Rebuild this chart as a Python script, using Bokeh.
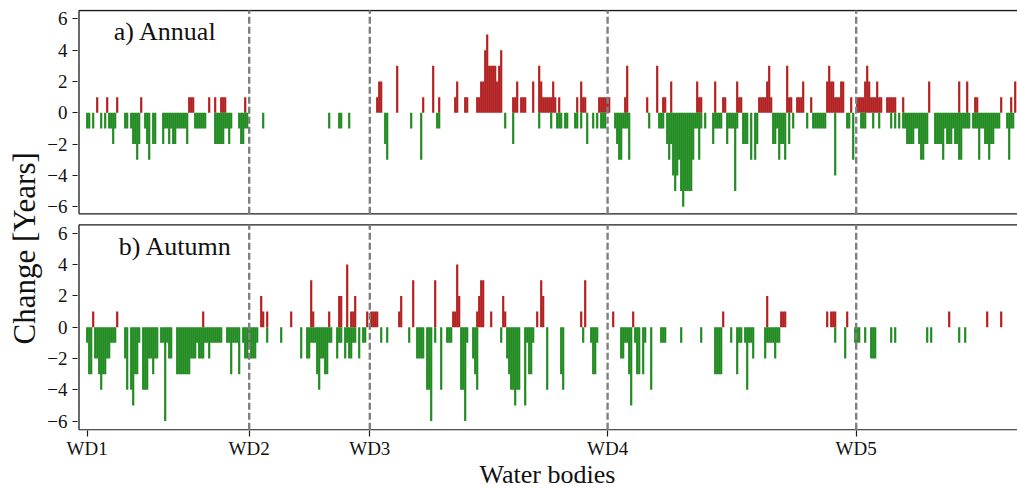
from bokeh.plotting import figure
from bokeh.models import Range1d, FixedTicker, Label, ColumnDataSource, Title
from bokeh.transform import dodge
from bokeh.embed import file_html
from bokeh.resources import INLINE

# ---------------- data (index of water body, change in years) ----------------
annual_up = [(5,1),(10,1),(15,1),(27,1),(51,1),(52,1),(53,1),(61,1),(64,1),(67,1),(68,1),(69,1),(79,1),
    (145,1),(146,2),(147,2),(155,3),(168,1),(173,3),(176,1),(184,1),(185,2),(189,1),(190,1),
    (195,1),(196,1),(197,2),(198,2),(199,4),(200,5),(201,3),(202,3),(203,3),(204,3),(205,2),(206,3),(207,4),
    (213,1),(214,1),(215,2),(217,1),(218,1),(219,1),(223,2),(226,3),(227,2),(228,1),(229,1),(230,1),(231,1),
    (232,1),(233,2),(234,1),(236,1),(245,1),(247,2),(248,1),(249,1),(256,1),(257,1),(258,1),(259,1),(260,1),
    (261,1),(269,1),(270,3),(280,1),(285,3),(288,1),(289,1),(292,2),(305,2),(306,1),(307,1),(314,2),(318,1),
    (319,1),(325,2),(326,1),(327,1),(336,1),(337,1),(338,1),(339,1),(340,2),(341,3),(342,1),(350,3),(351,1),
    (352,1),(355,1),(356,1),(357,1),(358,2),(362,1),(370,2),(371,3),(372,2),(373,2),(374,1),(375,1),(376,1),
    (377,2),(378,2),(382,1),(385,1),(386,1),(387,1),(388,1),(389,2),(390,3),(391,2),(392,1),(393,1),(394,1),
    (395,2),(396,1),(397,1),(400,1),(401,1),(402,1),(403,1),(404,1),(408,1),(421,2),(436,2),(440,2),(444,1),
    (445,1),(457,1),(462,1),(464,2)]

annual_down = [(0,-1),(1,-1),(3,-1),(7,-1),(9,-1),(11,-1),(12,-1),(13,-2),(14,-1),(19,-1),(20,-1),
    (22,-1),(23,-2),(24,-2),(25,-3),(26,-2),(29,-1),(30,-2),(31,-3),(33,-2),(34,-2),
    (38,-2),(39,-1),(40,-1),(41,-2),(42,-1),(43,-2),(44,-2),(45,-1),(46,-1),(47,-1),(48,-1),(49,-1),(50,-2),
    (54,-1),(55,-1),(56,-1),(57,-1),(58,-1),(59,-1),
    (64,-2),(65,-2),(66,-2),(67,-2),(68,-2),(69,-1),(70,-1),(71,-2),(72,-1),
    (76,-1),(77,-2),(78,-2),(79,-1),(80,-1),
    (88,-1),(121,-1),(126,-1),(127,-1),(131,-1),
    (149,-2),(150,-3),(162,-1),(167,-3),(175,-1),(176,-1),(209,-1),(213,-2),(226,-1),(232,-1),(235,-1),
    (236,-1),(237,-1),(239,-1),(240,-1),(244,-1),(245,-1),(247,-1),(250,-2),(253,-1),(255,-1),(257,-1),
    (258,-1),(259,-1),(264,-1),(265,-2),(266,-3),(267,-3),(268,-1),(269,-1),(270,-1),(271,-3),(281,-1),
    (286,-1),(287,-1),(288,-1),(290,-2),(291,-3),(292,-2),(293,-4),(294,-5),(295,-4),(296,-3),(297,-5),
    (298,-6),(299,-5),(300,-5),(301,-5),(302,-5),(303,-3),(304,-1),(305,-1),(306,-3),(307,-1),(309,-1),
    (313,-2),(314,-1),(315,-1),(316,-1),(317,-1),(320,-2),(321,-1),(322,-1),(323,-1),(324,-5),(325,-1),
    (328,-2),(329,-2),(330,-2),(332,-3),(334,-3),(335,-2),(343,-2),(344,-2),(345,-1),(346,-3),(347,-2),
    (348,-2),(349,-3),(351,-2),(353,-1),(360,-1),(363,-1),(364,-1),(365,-1),(366,-1),(367,-1),(368,-1),
    (369,-1),(374,-4),(380,-1),(381,-1),(383,-3),(387,-1),(388,-1),(389,-1),(393,-1),(396,-1),(402,-1),
    (404,-1),(406,-1),(408,-1),(409,-1),(410,-2),(411,-2),(412,-2),(413,-2),(414,-1),(415,-1),(416,-2),
    (417,-3),(418,-3),(419,-2),(420,-2),(424,-2),(425,-2),(426,-2),(427,-2),(428,-3),(429,-1),(430,-2),
    (431,-2),(432,-2),(433,-1),(434,-2),(435,-2),(436,-3),(437,-3),(438,-1),(439,-1),(440,-1),(441,-1),
    (443,-1),(444,-1),(445,-1),(446,-3),(447,-1),(448,-1),(449,-2),(450,-2),(451,-3),(452,-2),(453,-2),
    (454,-1),(455,-1),(456,-1),(460,-1),(461,-3),(462,-1),(463,-1)]

autumn_up = [(3,1),(15,1),(58,1),(87,2),(88,1),(90,1),(102,1),(112,3),(113,1),(121,1),(126,2),(127,2),
    (130,4),(132,1),(133,1),(134,2),(140,1),(142,1),(143,1),(144,1),(145,1),(156,1),(157,2),(163,3),
    (174,3),(183,1),(184,1),(185,4),(186,2),(195,1),(196,2),(197,3),(198,3),(202,1),(208,2),(209,1),
    (225,1),(227,3),(228,2),(247,1),(249,3),(263,1),(273,1),(318,1),(340,2),(347,1),(348,1),(349,1),
    (370,1),(372,1),(373,1),(374,1),(380,1),(431,1),(450,1),(457,1)]

autumn_down = [(0,-1),(1,-3),(2,-3),(4,-2),(5,-2),(6,-3),(7,-4),(8,-3),(9,-3),(10,-2),(11,-2),(12,-1),
    (13,-1),(14,-1),(19,-2),(20,-4),(22,-4),(23,-5),(24,-3),(25,-3),(26,-1),
    (28,-4),(29,-4),(30,-4),(31,-2),(32,-2),(33,-3),(34,-2),(35,-2),
    (37,-1),(38,-1),(39,-6),(40,-1),(41,-2),(42,-2),
    (45,-3),(46,-3),(47,-3),(48,-3),(49,-3),(50,-3),(51,-3),
    (52,-2),(53,-2),(54,-2),(55,-1),(56,-2),(57,-2),(58,-2),
    (59,-1),(60,-1),(61,-2),(62,-1),(63,-1),(64,-1),(65,-1),(66,-1),(67,-1),
    (70,-1),(71,-1),(72,-3),(73,-1),(74,-1),(75,-1),(76,-3),(78,-1),(79,-2),(80,-2),
    (81,-1),(82,-2),(83,-2),(84,-2),(85,-1),(90,-1),(97,-1),(107,-2),(110,-2),(111,-2),(112,-1),(113,-1),
    (114,-1),(115,-3),(116,-4),(117,-2),(118,-2),(119,-3),(120,-3),(121,-1),(122,-1),
    (125,-2),(126,-1),(127,-1),(129,-2),(130,-1),(131,-2),(132,-2),(133,-1),(134,-1),(136,-2),(138,-1),(139,-1),
    (147,-1),(150,-1),(161,-1),(165,-2),(166,-2),(167,-2),(168,-2),(170,-4),(171,-4),(172,-6),(174,-1),
    (177,-4),(180,-1),(181,-1),(182,-1),(187,-4),(188,-4),(189,-6),(190,-1),(193,-2),(194,-3),(195,-4),(207,-1),
    (210,-2),(211,-3),(212,-4),(213,-4),(214,-5),(215,-4),(216,-4),
    (219,-5),(220,-1),(221,-3),(222,-3),(223,-1),(230,-4),(237,-3),(238,-4),(248,-1),
    (252,-1),(253,-3),(254,-3),(255,-1),
    (267,-2),(268,-2),(269,-1),(270,-1),(271,-3),(272,-5),(274,-1),(275,-3),(276,-3),(278,-3),(279,-1),
    (282,-4),(287,-1),(288,-1),(289,-1),(297,-1),(307,-1),(314,-3),(315,-3),(316,-3),(317,-3),(322,-1),
    (325,-3),(326,-1),(327,-1),(329,-1),(330,-4),(331,-1),(332,-1),(333,-2),
    (339,-2),(340,-1),(341,-1),(342,-1),(343,-1),(344,-2),(345,-1),(346,-1),
    (374,-1),(379,-2),(384,-1),(385,-1),(386,-1),(389,-1),(392,-2),(393,-2),(394,-2),(402,-1),(404,-1),
    (420,-1),(422,-1),(436,-1),(439,-1)]

wd_labels = ["WD1", "WD2", "WD3", "WD4", "WD5"]
wd_pos = [0, 81, 141.3, 260.2, 384.5]
y_ticks = [-6, -4, -2, 0, 2, 4, 6]
panel_titles = ["a) Annual", "b) Autumn"]
x_title = "Water bodies"
y_title = "Change [Years]"

# ---------------- layout (pixels of the 1017x488 page) ----------------
FONT = "Liberation Serif"
TXT = "#111111"
RED = "#b22222"
GREEN = "#228b22"
PX_X = 2.0
PX_Y = 15.65
L, R, T, B = 77, 1017, 9, 430
X0 = -(86.7 - L) / PX_X
X1 = X0 + (R - L) / PX_X
Y1 = (112.3 - T) / PX_Y
Y0 = Y1 - (B - T) / PX_Y
OFF = (326.7 - 112.3) / PX_Y   # vertical offset of panel b


def px2y(py):
    return Y1 - (py - T) / PX_Y


def px2x(px):
    return X0 + (px - L) / PX_X


p = figure(frame_width=R - L, frame_height=B - T,
           x_range=Range1d(X0, X1), y_range=Range1d(Y0, Y1),
           min_border_left=L, min_border_right=0, min_border_top=T, min_border_bottom=488 - B,
           output_backend="svg", toolbar_location=None)
p.outline_line_color = None
p.grid.visible = False
p.background_fill_color = "white"
p.border_fill_color = "white"


def src(pairs):
    idx = [a for a, b in pairs]
    val = [b for a, b in pairs]
    return ColumnDataSource(dict(i=idx, v=val))


bar_kw = dict(width=1.1, line_color=None)
p.vbar(x="i", top="v", bottom=0, source=src(annual_up), fill_color=RED, **bar_kw)
p.vbar(x="i", top="v", bottom=0, source=src(annual_down), fill_color=GREEN, **bar_kw)
p.vbar(x="i", top=dodge("v", -OFF), bottom=-OFF, source=src(autumn_up), fill_color=RED, **bar_kw)
p.vbar(x="i", top=dodge("v", -OFF), bottom=-OFF, source=src(autumn_down), fill_color=GREEN, **bar_kw)

# panel frames (spines)
a_top, a_bot = px2y(10), px2y(213.3)
b_top, b_bot = px2y(224.3), px2y(429.3)
xl = px2x(78.5)
p.segment(x0=[xl] * 4, x1=[X1 + 5] * 4, y0=[a_top, a_bot, b_top, b_bot],
          y1=[a_top, a_bot, b_top, b_bot], line_color="#1a1a1a", line_width=1.3)
p.segment(x0=[xl, xl], x1=[xl, xl], y0=[a_bot, b_bot], y1=[a_top, b_top],
          line_color="#1a1a1a", line_width=1.3)

# dashed district boundaries
xs = wd_pos[1:]
p.segment(x0=xs, x1=xs, y0=[a_bot] * len(xs), y1=[a_top] * len(xs),
          line_color="#808080", line_width=2.4, line_dash="7 3")
p.segment(x0=xs, x1=xs, y0=[b_bot] * len(xs), y1=[b_top] * len(xs),
          line_color="#808080", line_width=2.4, line_dash="7 3")


# axes
def fmt(t):
    return ("\u2212" + str(abs(t))) if t < 0 else str(t)


yt = [float(t) for t in y_ticks] + [t - OFF for t in y_ticks]
over = {float(t): fmt(t) for t in y_ticks}
over.update({t - OFF: fmt(t) for t in y_ticks})
p.yaxis.ticker = FixedTicker(ticks=yt)
p.yaxis.major_label_overrides = over
p.xaxis.ticker = FixedTicker(ticks=wd_pos)
p.xaxis.major_label_overrides = {float(k): s for k, s in zip(wd_pos, wd_labels)}
for ax in (p.xaxis, p.yaxis):
    ax.axis_line_color = None
    ax.minor_tick_line_color = None
    ax.major_tick_in = 0
    ax.major_tick_line_color = "#1a1a1a"
    ax.major_tick_line_width = 1.2
    ax.major_label_text_font = FONT
    ax.major_label_text_color = TXT
p.xaxis.major_tick_out = 6
p.xaxis.major_label_standoff = 1
p.xaxis.major_label_text_font_size = "19px"
p.yaxis.major_tick_out = 5
p.yaxis.major_label_standoff = 5
p.yaxis.major_label_text_font_size = "19px"

# axis titles (outside the frame)
p.add_layout(Title(text=x_title, align="center", text_font=FONT, text_font_size="26px",
                   text_font_style="normal", text_color=TXT, standoff=-8), "below")
p.add_layout(Title(text=y_title, align="left", offset=86, text_font=FONT, text_font_size="31px",
                   text_font_style="normal", text_color=TXT, standoff=5), "left")

# panel titles
p.add_layout(Label(x=px2x(113.3), y=px2y(31), text=panel_titles[0], text_font=FONT,
                   text_font_size="26px", text_baseline="alphabetic", text_color=TXT))
p.add_layout(Label(x=px2x(118.3), y=px2y(246), text=panel_titles[1], text_font=FONT,
                   text_font_size="26px", text_baseline="alphabetic", text_color=TXT))

open("out.html", "w").write(file_html(p, INLINE))
